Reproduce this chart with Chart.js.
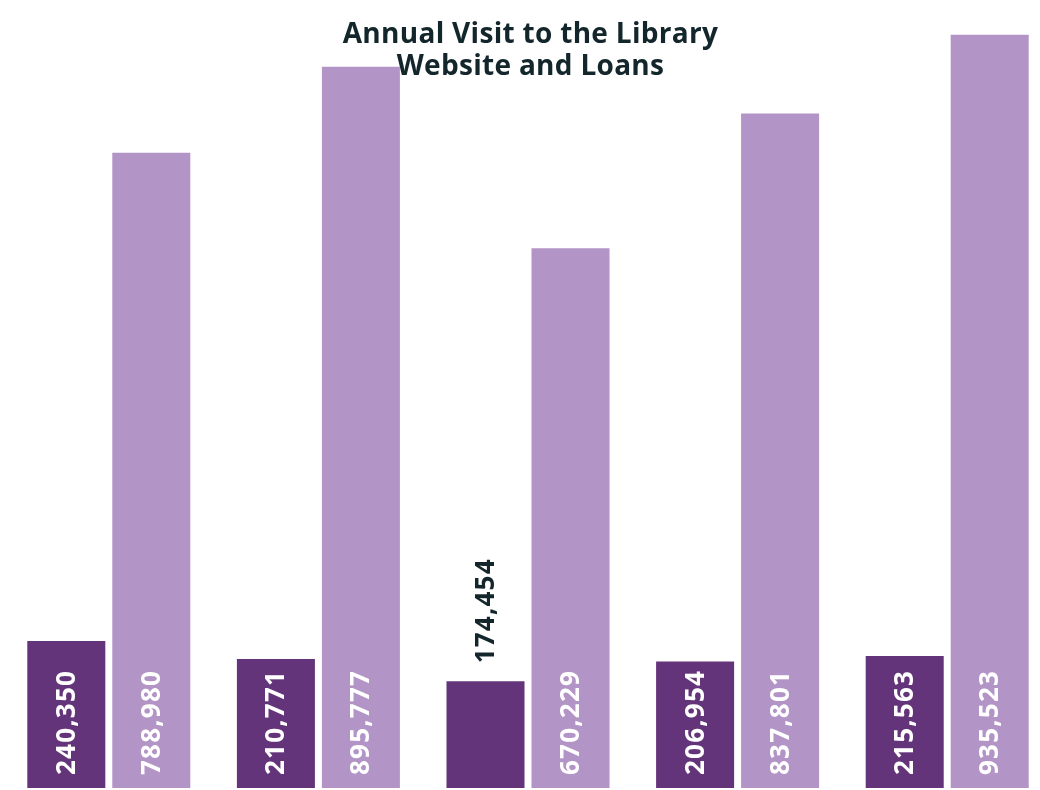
<!DOCTYPE html>
<html>
<head>
<meta charset="utf-8">
<script src="https://cdn.jsdelivr.net/npm/chart.js@4/dist/chart.umd.min.js"></script>
<style>
  html, body { margin: 0; padding: 0; background: #ffffff; overflow: hidden; }
  #wrap { position: relative; width: 1040px; height: 790px; overflow: hidden; }
  #title {
    position: absolute; top: 16px; left: 0; width: 1061px; text-align: center;
    font-family: "Open Sans", Lato, sans-serif; font-weight: 700; font-size: 28px;
    letter-spacing: 0.3px; line-height: 32px; color: #13262b; z-index: 2; pointer-events: none;
  }
</style>
</head>
<body>
<div id="wrap">
  <div id="title">Annual Visit to the Library<br>Website and Loans</div>
  <canvas id="chart" width="1056" height="790"></canvas>
</div>
<script>
// data
const categories = ['1', '2', '3', '4', '5'];
const websiteVisits = [240350, 210771, 174454, 206954, 215563];
const loans = [788980, 895777, 670229, 837801, 935523];

const DARK = '#633479';
const LIGHT = '#b394c6';

// draws the rotated value labels inside (or above, if the bar is too short) each bar
const barLabels = {
    id: 'barLabels',
    afterDatasetsDraw(chart) {
        const ctx = chart.ctx;
        ctx.save();
        ctx.font = 'bold 26px "Open Sans", Lato, sans-serif';
        ctx.letterSpacing = '1.2px';
        chart.data.datasets.forEach((ds, di) => {
            const meta = chart.getDatasetMeta(di);
            meta.data.forEach((bar, i) => {
                const text = ds.data[i].toLocaleString('en-US');
                const w = ctx.measureText(text).width;
                const h = bar.base - bar.y;
                ctx.save();
                ctx.translate(bar.x, bar.base);
                ctx.rotate(-Math.PI / 2);
                ctx.textBaseline = 'middle';
                ctx.textAlign = 'left';
                if (w + 15 < h) {
                    ctx.fillStyle = '#ffffff';
                    ctx.fillText(text, 13, 1);
                } else {
                    ctx.fillStyle = '#13262b';
                    ctx.fillText(text, h + 18, 1);
                }
                ctx.restore();
            });
        });
        ctx.restore();
    }
};

new Chart(document.getElementById('chart'), {
    type: 'bar',
    data: {
        labels: categories,
        datasets: [
            {
                label: 'Website visits',
                data: websiteVisits,
                backgroundColor: DARK,
                yAxisID: 'y',
                categoryPercentage: 0.811,
                barPercentage: 0.918
            },
            {
                label: 'Loans',
                data: loans,
                backgroundColor: LIGHT,
                yAxisID: 'y2',
                categoryPercentage: 0.811,
                barPercentage: 0.918
            }
        ]
    },
    options: {
        responsive: false,
        animation: false,
        layout: { padding: { top: 11, bottom: 2, left: 4, right: 4 } },
        plugins: {
            legend: { display: false },
            tooltip: { enabled: false }
        },
        scales: {
            x: { display: false },
            y: { display: false, min: 0, max: 1270000 },
            y2: { display: false, min: 0, max: 965000 }
        }
    },
    plugins: [barLabels]
});
</script>
</body>
</html>
